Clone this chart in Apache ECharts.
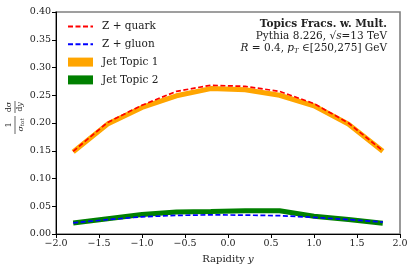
<!DOCTYPE html>
<html><head><meta charset="utf-8">
<script src="https://cdn.jsdelivr.net/npm/echarts@6/dist/echarts.min.js"></script>
<style>html,body{margin:0;padding:0;background:#fff}#c{width:416px;height:275px}</style>
</head><body><div id="c"></div>
<script>
const rapidity = [-1.8, -1.4, -1.0, -0.6, -0.2, 0.2, 0.6, 1.0, 1.4, 1.8];
const zQuark   = [0.149, 0.201, 0.232, 0.257, 0.268, 0.266, 0.257, 0.235, 0.200, 0.150];
const zGluon   = [0.020, 0.026, 0.031, 0.0335, 0.0345, 0.034, 0.033, 0.030, 0.026, 0.0215];
const topic1   = [0.148, 0.198, 0.228, 0.249, 0.262, 0.260, 0.250, 0.231, 0.198, 0.149];
const topic2   = [0.020, 0.0275, 0.035, 0.0395, 0.0405, 0.042, 0.042, 0.032, 0.026, 0.0195];
const xTicks = [-2.0, -1.5, -1.0, -0.5, 0.0, 0.5, 1.0, 1.5, 2.0];
const yTicks = [0.00, 0.05, 0.10, 0.15, 0.20, 0.25, 0.30, 0.35, 0.40];

const FONT = 'DejaVu Serif';
const pts = arr => rapidity.map((x, i) => [x, arr[i]]);
const fmtX = v => (v < 0 ? '\u2212' : '') + Math.abs(v).toFixed(1);
const fmtY = v => v.toFixed(2);

const chart = echarts.init(document.getElementById('c'), null, {renderer: 'canvas'});
chart.setOption({
  animation: false,
  grid: {left: 56, right: 16, top: 12, bottom: 41, show: true, borderColor: '#808080', borderWidth: 1.6, backgroundColor: 'transparent'},
  xAxis: {
    type: 'value', min: xTicks[0], max: xTicks[xTicks.length - 1], interval: 0.5,
    name: '{n|Rapidity }{i|y}', nameLocation: 'middle', nameGap: 20,
    nameTextStyle: {rich: {n: {fontFamily: FONT, fontSize: 10, color: '#222'}, i: {fontFamily: FONT, fontStyle: 'italic', fontSize: 10, color: '#222'}}},
    axisLine: {onZero: false, lineStyle: {color: '#000', width: 1}},
    axisTick: {show: true, inside: false, length: 4, lineStyle: {color: '#000'}},
    axisLabel: {formatter: fmtX, fontFamily: FONT, fontSize: 9.5, color: '#222', margin: 5},
    splitLine: {show: false}
  },
  yAxis: {
    type: 'value', min: yTicks[0], max: yTicks[yTicks.length - 1], interval: 0.05,
    axisLine: {show: true, onZero: false, lineStyle: {color: '#000', width: 1}},
    axisTick: {show: true, inside: false, length: 4, lineStyle: {color: '#000'}},
    axisLabel: {formatter: fmtY, fontFamily: FONT, fontSize: 9.5, color: '#222', margin: 5},
    splitLine: {show: false}
  },
  legend: {
    orient: 'vertical', left: 67, top: 21, padding: 0, itemWidth: 25, itemHeight: 9, itemGap: 6.8,
    textStyle: {fontFamily: FONT, fontSize: 10.5, color: '#222', padding: [0, 0, 0, 4]},
    data: [
      {name: 'Z + quark', itemStyle: {opacity: 0}},
      {name: 'Z + gluon', itemStyle: {opacity: 0}},
      {name: 'Jet Topic 1', icon: 'rect'},
      {name: 'Jet Topic 2', icon: 'rect'}
    ]
  },
  series: [
    {name: 'Jet Topic 1', type: 'line', data: pts(topic1), symbol: 'none', z: 2,
     lineStyle: {color: '#FFA500', width: 5}, itemStyle: {color: '#FFA500'}},
    {name: 'Jet Topic 2', type: 'line', data: pts(topic2), symbol: 'none', z: 2,
     lineStyle: {color: '#008000', width: 5}, itemStyle: {color: '#008000'}},
    {name: 'Z + quark', type: 'line', data: pts(zQuark), symbol: 'none', z: 3,
     lineStyle: {color: '#FF0000', width: 1.7, type: [5, 2.5]}, itemStyle: {color: '#FF0000'}},
    {name: 'Z + gluon', type: 'line', data: pts(zGluon), symbol: 'none', z: 3,
     lineStyle: {color: '#0000FF', width: 1.7, type: [5, 2.5]}, itemStyle: {color: '#0000FF'}}
  ],
  graphic: [
    {type: 'text', right: 29, top: 19, style: {text: 'Topics Fracs. w. Mult.', font: 'bold 10.5px "DejaVu Serif"', fill: '#222', textAlign: 'right'}},
    {type: 'text', right: 29, top: 31, style: {
      text: '{n|Pythia 8.226, \u221A}{i|s}{n|=13 TeV}',
      rich: {n: {fontFamily: FONT, fontSize: 10.5, fill: '#222'}, i: {fontFamily: FONT, fontStyle: 'italic', fontSize: 10.5, fill: '#222'}}}},
    {type: 'text', right: 29, top: 43, style: {
      text: '{i|R}{n| = 0.4, }{i|p}{s|T}{n| \u2208[250,275] GeV}',
      rich: {n: {fontFamily: FONT, fontSize: 10.5, fill: '#222'}, i: {fontFamily: FONT, fontStyle: 'italic', fontSize: 10.5, fill: '#222'},
             s: {fontFamily: FONT, fontStyle: 'italic', fontSize: 7, fill: '#222', verticalAlign: 'bottom', padding: [6, 0, 0, 0]}}}},
    {type: 'group', x: 15, y: 116, rotation: Math.PI / 2, children: [
      {type: 'text', x: -9, y: -2, style: {text: '1', font: '8px "DejaVu Serif"', fill: '#222', textAlign: 'center', textVerticalAlign: 'bottom'}},
      {type: 'line', shape: {x1: -18, y1: 0, x2: 0, y2: 0}, style: {stroke: '#222', lineWidth: 0.7}},
      {type: 'text', x: -9, y: 1, style: {text: '{i|\u03C3}{s|tot}', rich: {i: {fontFamily: FONT, fontStyle: 'italic', fontSize: 8, fill: '#222'}, s: {fontFamily: FONT, fontStyle: 'italic', fontSize: 5.5, fill: '#222', padding: [4, 0, 0, 0]}}, textAlign: 'center', textVerticalAlign: 'top'}},
      {type: 'text', x: 9, y: -2, style: {text: 'd\u03C3', font: '8px "DejaVu Serif"', fill: '#222', textAlign: 'center', textVerticalAlign: 'bottom'}},
      {type: 'line', shape: {x1: 3, y1: 0, x2: 15, y2: 0}, style: {stroke: '#222', lineWidth: 0.7}},
      {type: 'text', x: 9, y: 1, style: {text: 'd{i|y}', font: '8px "DejaVu Serif"', rich: {i: {fontFamily: FONT, fontStyle: 'italic', fontSize: 8, fill: '#222'}}, fill: '#222', textAlign: 'center', textVerticalAlign: 'top'}}
    ]}
  ]
});
</script></body></html>
